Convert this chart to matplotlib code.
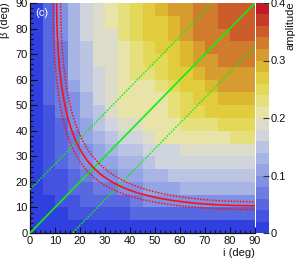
import numpy as np
import matplotlib
matplotlib.use("Agg")
import matplotlib.pyplot as plt
from matplotlib.colors import ListedColormap, BoundaryNorm

plt.rcParams['font.family'] = ['Liberation Sans', 'DejaVu Sans']

# ---- data ----
i_edges = np.arange(0, 95, 5)       # inclination bins (deg)
beta_edges = np.arange(0, 95, 5)    # beta bins (deg)

# amplitude, rows = beta bins (0-5 ... 85-90), columns = i bins (0-5 ... 85-90)
amplitude = np.array([
    [.01, .01, .01, .01, .01, .01, .01, .01, .01, .01, .01, .01, .01, .01, .01, .01, .01, .01],
    [.01, .01, .01, .03, .03, .03, .03, .03, .05, .05, .05, .05, .05, .05, .05, .05, .05, .05],
    [.01, .01, .03, .03, .05, .05, .05, .05, .07, .09, .09, .09, .09, .09, .09, .09, .09, .09],
    [.01, .03, .03, .05, .05, .07, .07, .09, .09, .11, .11, .11, .13, .13, .13, .13, .13, .13],
    [.01, .03, .03, .05, .07, .09, .09, .11, .11, .13, .13, .15, .15, .15, .15, .15, .15, .15],
    [.01, .03, .05, .07, .09, .11, .11, .13, .13, .15, .17, .17, .17, .17, .17, .17, .17, .17],
    [.01, .03, .05, .07, .09, .11, .13, .15, .15, .17, .17, .17, .19, .19, .19, .19, .19, .19],
    [.01, .03, .05, .07, .11, .13, .15, .17, .17, .19, .21, .21, .21, .21, .21, .21, .23, .23],
    [.01, .03, .05, .09, .11, .15, .17, .19, .19, .21, .21, .21, .23, .23, .23, .25, .25, .25],
    [.01, .03, .07, .09, .13, .15, .19, .21, .21, .21, .21, .23, .25, .25, .27, .27, .27, .27],
    [.01, .05, .07, .09, .13, .17, .19, .21, .21, .21, .21, .23, .25, .27, .27, .29, .29, .29],
    [.01, .05, .07, .11, .15, .17, .19, .21, .21, .21, .23, .25, .27, .27, .29, .31, .31, .31],
    [.01, .05, .07, .13, .15, .17, .19, .21, .23, .23, .25, .27, .27, .29, .31, .31, .31, .31],
    [.01, .05, .07, .13, .15, .19, .19, .21, .23, .25, .25, .27, .29, .31, .31, .33, .33, .33],
    [.01, .05, .07, .13, .15, .19, .19, .21, .23, .25, .27, .27, .29, .31, .33, .33, .33, .33],
    [.01, .05, .09, .13, .17, .19, .19, .23, .25, .27, .27, .29, .31, .33, .33, .33, .35, .35],
    [.01, .05, .09, .13, .17, .19, .21, .23, .25, .27, .27, .29, .31, .33, .33, .35, .35, .35],
    [.01, .05, .09, .13, .17, .19, .21, .23, .25, .27, .29, .31, .31, .33, .33, .35, .35, .35],
])

# constraint curves sin(i)*sin(beta) = level (lower, central, upper)
red_levels = [0.160, 0.185, 0.212]
# green lines beta = i + offset
green_offsets = [0, 17, -17]

x_ticks = [0, 10, 20, 30, 40, 50, 60, 70, 80, 90]
y_ticks = [0, 10, 20, 30, 40, 50, 60, 70, 80, 90]
cbar_ticks = [0, 0.1, 0.2, 0.3, 0.4]
cbar_labels = ["0", "0.1", "0.2", "0.3", "0.4"]

# ---- style ----
palette = ['#3040e0', '#4454e0', '#5868e0', '#6c7ce0', '#8090e4',
           '#94a4e4', '#a8b4e4', '#bcc4e4', '#d0d4dc', '#dcdcc8',
           '#e8e4a8', '#e6e07c', '#e4d858', '#e0cc3c', '#dcb830',
           '#d69c30', '#d07c2c', '#cc5c2a', '#c63a28', '#c01a2a']
cmap = ListedColormap(palette)
norm = BoundaryNorm(np.linspace(0, 0.4, len(palette) + 1), cmap.N)

W, H = 300, 259
fig = plt.figure(figsize=(W / 100, H / 100), dpi=100)
ax = fig.add_axes([30 / W, 26 / H, 225 / W, 230 / H])
cax = fig.add_axes([256 / W, 26 / H, 13 / W, 230 / H])

mesh = ax.pcolormesh(i_edges, beta_edges, amplitude, cmap=cmap, norm=norm,
                     shading='flat', antialiased=False, linewidth=0)

lo, hi = i_edges[0], i_edges[-1]

# green lines
xx = np.linspace(lo, hi, 500)
for off in green_offsets:
    yy = xx + off
    m = (yy >= lo) & (yy <= hi)
    if off == 0:
        ax.plot(xx[m], yy[m], color='#10f010', lw=1.2, solid_capstyle='butt', zorder=3)
    else:
        ax.plot(xx[m], yy[m], color='#10f010', lw=1.1, ls=(0, (1.0, 1.0)), zorder=3)

# red constraint curves
for k, c in enumerate(red_levels):
    i0 = np.degrees(np.arcsin(c))
    ii = np.linspace(i0, hi, 800)
    bb = np.degrees(np.arcsin(np.clip(c / np.sin(np.radians(ii)), -1, 1)))
    m = (bb >= lo) & (bb <= hi)
    if k == 1:
        ax.plot(ii[m], bb[m], color='#ff1010', lw=1.2, zorder=4)
    else:
        ax.plot(ii[m], bb[m], color='#ff1010', lw=1.1, ls=(0, (1.0, 1.0)), zorder=4)

ax.set_xlim(lo, hi)
ax.set_ylim(lo, hi)
ax.set_xticks(x_ticks)
ax.set_yticks(y_ticks)
ax.set_xticks(np.arange(lo, hi + 1, 2), minor=True)
ax.set_yticks(np.arange(lo, hi + 1, 2), minor=True)
ax.tick_params(which='both', direction='in', top=False, right=False,
               color='#111111', width=0.8, labelsize=8, labelcolor='#111111')
ax.tick_params(axis='x', which='major', length=4.5, pad=2.0)
ax.tick_params(axis='y', which='major', length=5.0, pad=1.5)
ax.tick_params(which='minor', length=2.2)
for s in ['top', 'right']:
    ax.spines[s].set_visible(False)
for s in ['left', 'bottom']:
    ax.spines[s].set_linewidth(0.9)
    ax.spines[s].set_color('#111111')

ax.text(0.022, 0.978, '(c)', transform=ax.transAxes, color='white',
        fontsize=8, ha='left', va='top', zorder=5)

# colorbar
cb = fig.colorbar(mesh, cax=cax, ticks=cbar_ticks)
cb.ax.set_yticklabels(cbar_labels)
cb.outline.set_visible(False)
cax.tick_params(direction='in', length=4.5, width=0.8, color='#333333',
                labelsize=8, pad=1.5, labelcolor='#111111')
cax.minorticks_off()

fig.text(5 / W, 1 - 2 / H, 'β (deg)', rotation=90, ha='center', va='top', fontsize=8, color='#111111')
fig.text(255 / W, 1 / H, 'i (deg)', ha='right', va='bottom', fontsize=8, color='#111111')
fig.text(291 / W, 1 - 1 / H, 'amplitude', rotation=90, ha='center', va='top', fontsize=8, color='#111111')

fig.savefig('out.png', dpi=100)
